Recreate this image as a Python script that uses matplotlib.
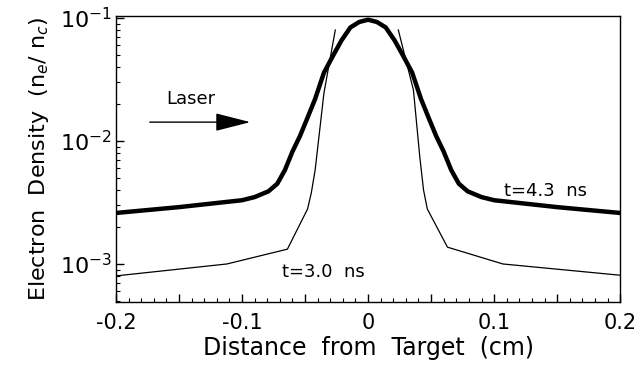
import numpy as np
import matplotlib.pyplot as plt

# electron density profiles (x in cm, n_e/n_c)
x_late = [-0.2, -0.15, -0.1, -0.09, -0.079, -0.072, -0.066, -0.06, -0.054, -0.048,
          -0.042, -0.035, -0.028, -0.021, -0.014, -0.007, 0.0,
          0.007, 0.014, 0.021, 0.028, 0.035, 0.042, 0.048, 0.054, 0.06,
          0.066, 0.072, 0.079, 0.09, 0.1, 0.15, 0.2]
n_late = [0.0026, 0.0029, 0.0033, 0.0035, 0.0039, 0.0045, 0.0058, 0.0082, 0.011, 0.0155,
          0.022, 0.036, 0.049, 0.066, 0.084, 0.093, 0.097,
          0.093, 0.084, 0.066, 0.049, 0.036, 0.022, 0.0155, 0.011, 0.0082,
          0.0058, 0.0045, 0.0039, 0.0035, 0.0033, 0.0029, 0.0026]

# t=3.0 ns profile, two branches (nan breaks the line over the peak)
x_early = [-0.2, -0.112, -0.064, -0.048, -0.045, -0.042, -0.035, -0.026, np.nan,
           0.024, 0.036, 0.041, 0.044, 0.047, 0.063, 0.107, 0.2]
n_early = [0.00080, 0.0010, 0.00132, 0.0028, 0.0038, 0.0058, 0.0246, 0.08, np.nan,
           0.08, 0.026, 0.0075, 0.0040, 0.0028, 0.00137, 0.0010, 0.00081]

x_ticks = [-0.2, -0.15, -0.1, -0.05, 0.0, 0.05, 0.1, 0.15, 0.2]
x_labels = ['-0.2', '', '-0.1', '', '0', '', '0.1', '', '0.2']
y_ticks = [1e-3, 1e-2, 1e-1]
y_labels = [r'$\mathregular{10^{-3}}$', r'$\mathregular{10^{-2}}$', r'$\mathregular{10^{-1}}$']

plt.rcParams['font.family'] = 'DejaVu Sans'

fig = plt.figure(figsize=(6.39, 3.72), dpi=100)
ax = fig.add_axes([0.1815, 0.188, 0.789, 0.769])
ax.set_yscale('log')

ax.plot(x_late, n_late, color='black', lw=3.2, solid_joinstyle='round')
ax.plot(x_early, n_early, color='black', lw=0.9)

ax.set_xlim(-0.2, 0.2)
ax.set_ylim(4.9e-4, 0.104)

ax.set_xticks(x_ticks, x_labels)
ax.set_xticks(np.arange(-0.2, 0.2001, 0.01), minor=True)
ax.set_yticks(y_ticks, y_labels)

ax.tick_params(which='both', direction='in', top=False, right=False, colors='black')
ax.tick_params(axis='x', which='major', length=6, width=1, labelsize=15, pad=8)
ax.tick_params(axis='x', which='minor', length=3, width=0.8)
ax.tick_params(axis='y', which='major', length=6, width=1, labelsize=16, pad=3)
ax.tick_params(axis='y', which='minor', length=3, width=0.8)
for s in ax.spines.values():
    s.set_linewidth(1.0)

ax.set_xlabel('Distance  from  Target  (cm)', fontsize=17, labelpad=2)
ax.set_ylabel(r'Electron  Density  (n$_e$/ n$_c$)', fontsize=16, labelpad=6)

ax.text(0.149, 0.71, 'Laser', transform=ax.transAxes, fontsize=13,
        ha='center', va='center')
ax.annotate('', xy=(0.272, 0.629), xytext=(0.0615, 0.629),
            xycoords='axes fraction', textcoords='axes fraction',
            arrowprops=dict(arrowstyle='-|>,head_length=1.1,head_width=0.28',
                            color='black', lw=1, mutation_scale=20))
ax.text(0.851, 0.388, 't=4.3  ns', transform=ax.transAxes, fontsize=13,
        ha='center', va='center')
ax.text(0.411, 0.105, 't=3.0  ns', transform=ax.transAxes, fontsize=13,
        ha='center', va='center')

fig.savefig('out.png', dpi=100)
